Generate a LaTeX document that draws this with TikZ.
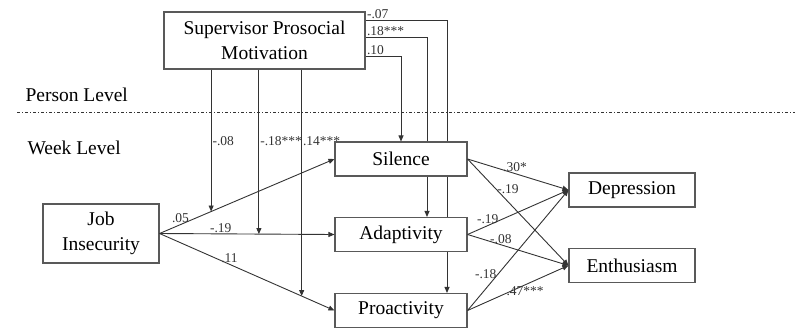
\documentclass[tikz,border=0pt]{standalone}
\usepackage{fontspec}
\setmainfont{LiberationSerif}[Extension=.ttf, UprightFont=*-Regular, BoldFont=*-Bold]
\usepackage{tikz}
\usetikzlibrary{calc}
\usetikzlibrary{arrows.meta}
\usetikzlibrary{backgrounds}
\definecolor{linegray}{gray}{.2}
\definecolor{boxgray}{gray}{.35}
\newcommand{\widthmed}{132pt}
\newcommand{\widthout}{126pt}
\newcommand{\heightbox}{34pt}
\tikzset{
    common/.style={draw=boxgray, line width=1.1pt, fill=white, rectangle, align=center,
        font=\fontsize{19.5}{25}\selectfont, inner sep=2pt},
    med/.style={common, minimum width=\widthmed, minimum height=\heightbox},
    outcome/.style={common, minimum width=\widthout, minimum height=\heightbox},
    level/.style={anchor=west, font=\fontsize{19.5}{25}\selectfont},
    levelline/.style={draw=linegray, line width=0.8pt, dash pattern=on 3pt off 2pt on 1pt off 2pt},
    coef/.style={font=\fontsize{13.5}{14}\selectfont, inner sep=1pt, text=linegray},
    link/.style={draw=linegray, line width=0.9pt, -{Triangle[length=6pt,width=5pt]}}
}

\begin{document}
\begin{tikzpicture}[x=1pt, y=-1pt]
    \useasboundingbox (0,0) rectangle (795,330);

    % variables
    \node[common, minimum width=201pt, minimum height=57pt] (spm) at (264.5,40.5) {Supervisor Prosocial\\Motivation};
    \node[common, minimum width=116pt, minimum height=59pt] (ji) at (101,233.5) {Job\\Insecurity};
    \node[med] (sil) at (401,159) {Silence};
    \node[med] (ada) at (401,234.5) {Adaptivity};
    \node[med] (pro) at (401,310.5) {Proactivity};
    \node[outcome] (dep) at (632,190) {Depression};
    \node[outcome] (ent) at (632,265.5) {Enthusiasm};

    % levels
    \node[level] (person) at (22,95) {Person Level};
    \node[level] (week) at (24,148) {Week Level};
    \coordinate (lvl-left) at (17,112);
    \coordinate (lvl-right) at (795,112);
    \draw[levelline] (lvl-left) -- (lvl-right);

    % job insecurity -> mediators
    \draw[link] (ji.east) -- node[coef, pos=0.12, above] {.05} (sil.west);
    \draw[link] (ji.east) -- node[coef, pos=0.35, above] {-.19} (ada.west);
    \draw[link] (ji.east) -- node[coef, pos=0.4, above] {.11} (pro.west);

    % cross-level moderation
    \coordinate (m1) at ($(ji.east)!0.295!(sil.west)$);
    \coordinate (m2) at ($(ji.east)!0.568!(ada.west)$);
    \coordinate (m3) at ($(ji.east)!0.8125!(pro.west)$);
    \draw[link] (spm.south -| m1) -- node[coef, pos=0.505, right] {-.08} (m1);
    \draw[link] (spm.south -| m2) -- node[coef, pos=0.436, right] {-.18***} (m2);
    \draw[link] (spm.south -| m3) -- node[coef, pos=0.317, right] {.14***} (m3);

    % cross-level direct effects
    \coordinate (d1) at ($(spm.north east)+(0,9)$);
    \coordinate (d2) at ($(spm.north east)+(0,26)$);
    \coordinate (d3) at ($(spm.north east)+(0,45)$);
    \coordinate (ada-in) at ($(ada.north)+(26,0)$);
    \coordinate (pro-in) at ($(pro.north)+(46,0)$);
    \draw[link] (d3) node[coef, anchor=south west] {.10} -| (sil.north);
    \begin{pgfonlayer}{background}
        \draw[link] (d2) node[coef, anchor=south west] {.18***} -| (ada-in);
        \draw[link] (d1) node[coef, anchor=south west] {-.07} -| (pro-in);
    \end{pgfonlayer}

    % mediators -> outcomes
    \draw[link] (sil.east) -- node[coef, pos=0.47, above] {.30*} (dep.west);
    \draw[link] (sil.east) -- node[coef, pos=0.28, right] {-.19} (ent.west);
    \draw[link] (ada.east) -- node[coef, pos=0.2, above] {-.19} (dep.west);
    \draw[link] (ada.east) -- node[coef, pos=0.33, above] {-.08} (ent.west);
    \draw[link] (pro.east) -- node[coef, pos=0.3, left] {-.18} (dep.west);
    \draw[link] (pro.east) -- node[coef, pos=0.57, below] {.47***} (ent.west);
\end{tikzpicture}
\end{document}
